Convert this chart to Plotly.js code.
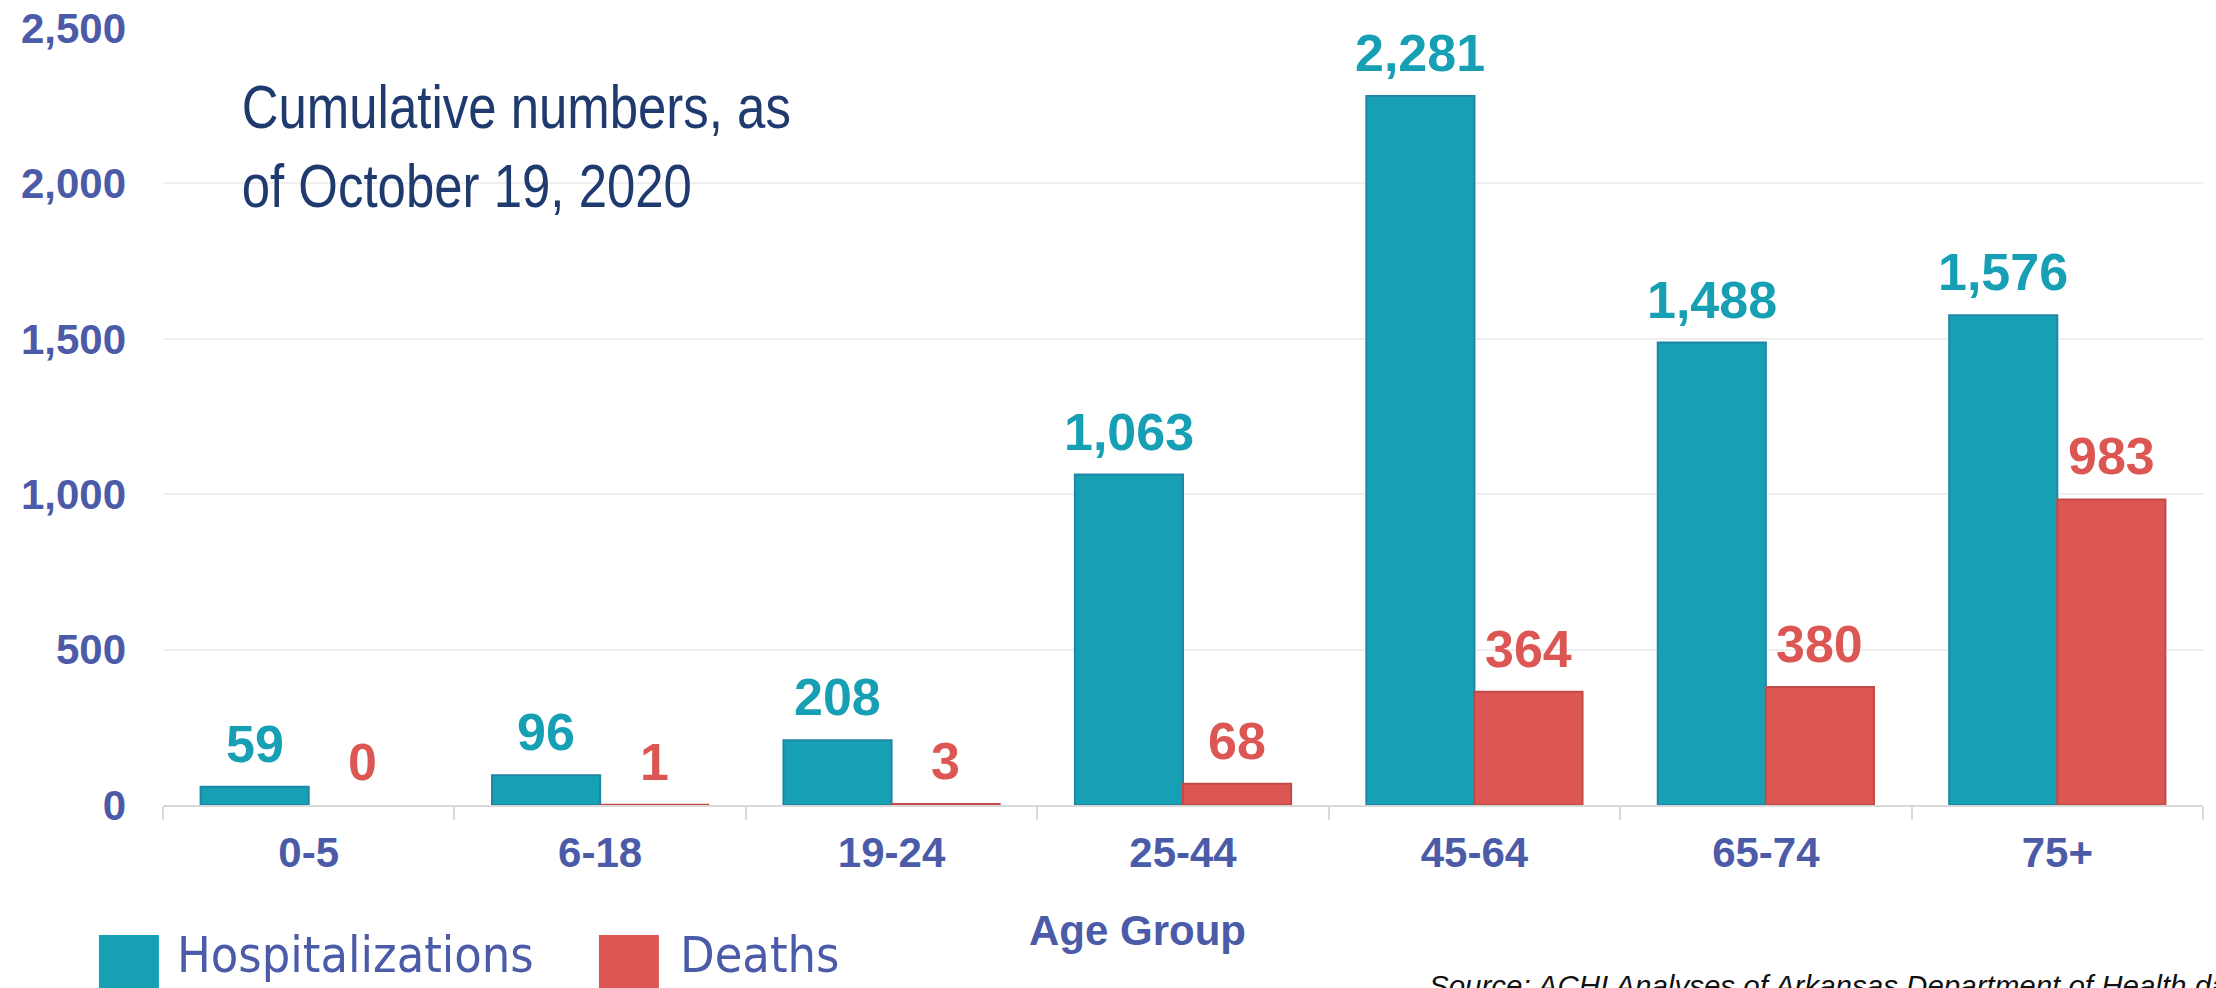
<!DOCTYPE html>
<html>
<head>
<meta charset="utf-8">
<script src="https://cdn.plot.ly/plotly-3.0.1.min.js"></script>
<style>html,body{margin:0;padding:0;background:#fff;}#chart{width:2216px;height:988px;}</style>
</head>
<body>
<div id="chart"></div>
<script>
const categories = ['0-5', '6-18', '19-24', '25-44', '45-64', '65-74', '75+'];
const hospitalizations = [59, 96, 208, 1063, 2281, 1488, 1576];
const deaths = [0, 1, 3, 68, 364, 380, 983];
const yTickVals = [0, 500, 1000, 1500, 2000, 2500];
const seriesNames = ['Hospitalizations', 'Deaths'];
const titleText = 'Cumulative numbers, as<br>of October 19, 2020';
const xAxisTitle = 'Age Group';
const sourceText = 'Source: ACHI Analyses of Arkansas Department of Health data';

const TEAL = '#17A0B4', TEAL_EDGE = '#1F86A6';
const RED = '#DC5753', RED_EDGE = '#C24B48';
const AXIS_BLUE = '#4B5BA8';
const BOLD = 'Liberation Sans, Arial, sans-serif';
const LEGEND_FONT = 'DejaVu Sans Condensed, DejaVu Sans, sans-serif';

const traces = [
  {type: 'bar', name: seriesNames[0], x: categories, y: hospitalizations,
   marker: {color: TEAL, line: {color: TEAL_EDGE, width: 2}}, hoverinfo: 'x+y'},
  {type: 'bar', name: seriesNames[1], x: categories, y: deaths,
   marker: {color: RED, line: {color: RED_EDGE, width: deaths.map(v => v > 0 ? 2 : 0)}}, hoverinfo: 'x+y'}
];

const annotations = [];
const fmt = v => v.toLocaleString('en-US');
categories.forEach((c, i) => {
  annotations.push({x: c, y: hospitalizations[i], xref: 'x', yref: 'y', text: fmt(hospitalizations[i]),
    showarrow: false, xanchor: 'center', yanchor: 'bottom', xshift: -54, yshift: 12,
    font: {family: BOLD, size: 52, color: TEAL, weight: 'bold'}});
  annotations.push({x: c, y: deaths[i], xref: 'x', yref: 'y', text: fmt(deaths[i]),
    showarrow: false, xanchor: 'center', yanchor: 'bottom', xshift: 54, yshift: 12,
    font: {family: BOLD, size: 52, color: RED, weight: 'bold'}});
});
const TITLE_INDEX = annotations.length;
// chart title box
annotations.push({xref: 'paper', yref: 'paper', x: 0.0377, y: 0.945, xanchor: 'left', yanchor: 'top',
  align: 'left', showarrow: false, text: titleText,
  font: {family: 'Liberation Sans, Arial, sans-serif', size: 61, color: '#1F3A6E'}});
// x axis title
annotations.push({xref: 'paper', yref: 'paper', x: 0.4775, y: -0.161, xanchor: 'center', yanchor: 'middle',
  showarrow: false, text: xAxisTitle, font: {family: BOLD, size: 42, color: AXIS_BLUE, weight: 'bold'}});
// legend texts
annotations.push({xref: 'paper', yref: 'paper', x: 0.0059, y: -0.1935, xanchor: 'left', yanchor: 'middle',
  showarrow: false, text: seriesNames[0], font: {family: LEGEND_FONT, size: 50, color: AXIS_BLUE}});
annotations.push({xref: 'paper', yref: 'paper', x: 0.2525, y: -0.1935, xanchor: 'left', yanchor: 'middle',
  showarrow: false, text: seriesNames[1], font: {family: LEGEND_FONT, size: 50, color: AXIS_BLUE}});
// source (runs off the bottom-right corner, as in the original)
annotations.push({xref: 'paper', yref: 'paper', x: 0.6196, y: -0.2085, xanchor: 'left', yanchor: 'top',
  showarrow: false, text: '<i>' + sourceText + '</i>', font: {family: 'Liberation Sans, Arial, sans-serif', size: 29.5, color: '#111'}});

const shapes = [
  {type: 'rect', xref: 'paper', yref: 'paper', x0: -0.0314, x1: -0.0020, y0: -0.1673, y1: -0.236,
   fillcolor: TEAL, line: {width: 0}},
  {type: 'rect', xref: 'paper', yref: 'paper', x0: 0.2137, x1: 0.2431, y0: -0.1673, y1: -0.236,
   fillcolor: RED, line: {width: 0}}
];

const layout = {
  width: 2216, height: 988,
  margin: {l: 163, r: 13, t: 28, b: 183},
  paper_bgcolor: '#ffffff', plot_bgcolor: '#ffffff',
  barmode: 'group', bargap: 0.258, bargroupgap: 0,
  showlegend: false,
  xaxis: {type: 'category', tickson: 'boundaries', ticks: 'outside', ticklen: 13, tickcolor: '#D9D9D9', tickwidth: 2,
    showline: true, linecolor: '#D9D9D9', linewidth: 2, showgrid: false,
    tickfont: {family: BOLD, size: 42, color: AXIS_BLUE, weight: 'bold'}, ticklabelstandoff: 10},
  yaxis: {range: [0, 2500], tickvals: yTickVals, tickformat: ',d', showgrid: true, gridcolor: '#EFEFEF', gridwidth: 2,
    zeroline: false, showline: false, ticks: '', ticklabelstandoff: 36,
    tickfont: {family: BOLD, size: 42, color: AXIS_BLUE, weight: 'bold'}},
  annotations: annotations,
  shapes: shapes
};

Plotly.newPlot('chart', traces, layout, {displayModeBar: false, staticPlot: true}).then(gd => {
  // condense the title text horizontally (narrow face as in the original), keeping its left edge
  const g = gd.querySelector('.annotation[data-index="' + TITLE_INDEX + '"] .annotation-text-g');
  if (g) {
    const s = 0.835;
    const bb = g.getBBox();
    const prev = g.getAttribute('transform') || '';
    g.setAttribute('transform', 'translate(' + (bb.x * (1 - s)) + ',0) scale(' + s + ',1) ' + prev);
  }
});
</script>
</body>
</html>
